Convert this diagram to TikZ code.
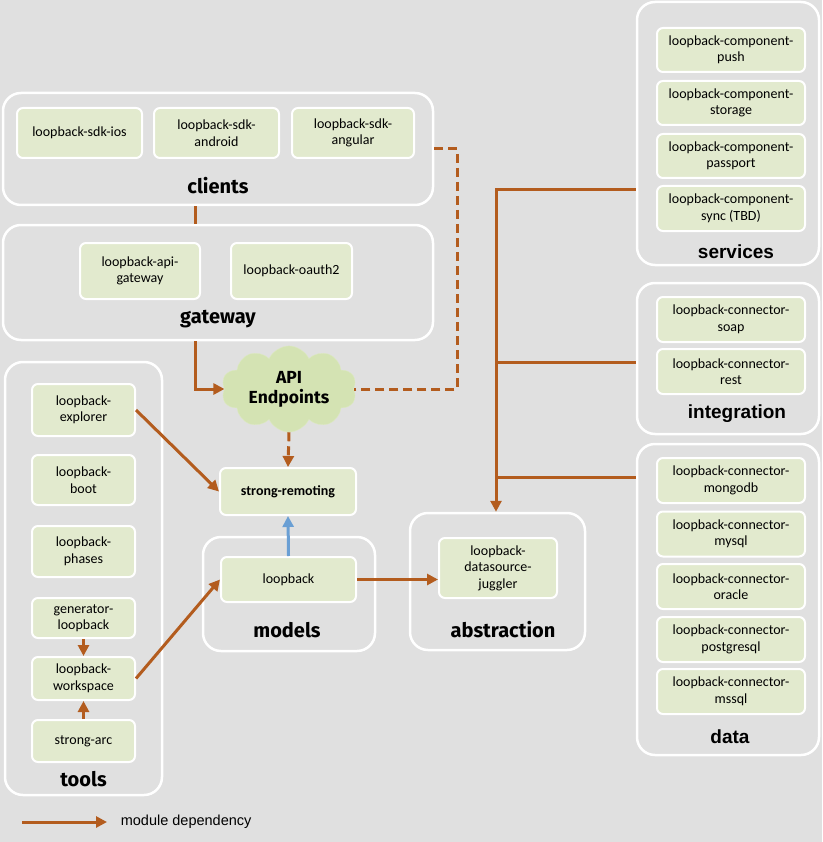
\documentclass[tikz,border=0pt]{standalone}
\usepackage{fontspec}
\setmainfont{Carlito}
\newfontfamily\grpfont{Fira Sans}
\newfontfamily\arialfont{Liberation Sans}
\usetikzlibrary{positioning, shapes.symbols, arrows.meta}
\definecolor{bggray}{HTML}{E0E0E0}
\definecolor{modgreen}{HTML}{E2EACE}
\definecolor{cloudgreen}{HTML}{D4E3B3}
\definecolor{deporange}{HTML}{B35C1E}
\definecolor{depblue}{HTML}{6A9FD4}
\tikzset{
	group/.style={
		rectangle,
		draw=white,
		line width=2.5pt,
		rounded corners=18pt,
		inner sep=0pt,
	},
	module/.style={
		rectangle,
		draw=white,
		line width=2pt,
		fill=modgreen,
		rounded corners=6pt,
		align=center,
		inner sep=0pt,
		font=\fontsize{14}{16.5}\selectfont,
	},
	grplabel/.style={
		font=\grpfont\bfseries\fontsize{20}{22}\selectfont,
		inner sep=0pt,
	},
	arlabel/.style={
		font=\arialfont\bfseries\fontsize{19}{22}\selectfont,
		inner sep=0pt,
	},
	dep/.style={
		draw=deporange,
		line width=3pt,
	},
}

\begin{document}
\begin{tikzpicture}[x=1pt, y=-1pt, >={Triangle[length=11pt,width=11pt]}]

		\fill [bggray] (0,0) rectangle (822,842);
		\useasboundingbox (0,0) rectangle (822,842);

		% clients and gateway
		\node [group, minimum width=430, minimum height=112] (clients) at (218,149) {};
		\node [module, minimum width=125, minimum height=50] (sdkios) at (79.5,133) {loopback-sdk-ios};
		\node [module, minimum width=125, minimum height=50] (sdkandroid) at (216.5,133) {loopback-sdk-\\android};
		\node [module, minimum width=122, minimum height=50] (sdkangular) at (353,133) {loopback-sdk-\\angular};
		\node [grplabel] (clientslbl) at (218,186) {clients};

		\node [group, minimum width=430, minimum height=115] (gateway) at (218,282.5) {};
		\node [module, minimum width=120, minimum height=56] (apigw) at (140,271) {loopback-api-\\gateway};
		\node [module, minimum width=121, minimum height=56] (oauth) at (291.5,271) {loopback-oauth2};
		\node [grplabel] (gatewaylbl) at (218,319) {gateway};

		\node [cloud, cloud puffs=10, cloud puff arc=130, aspect=1.7, draw=cloudgreen!80!white, fill=cloudgreen,
			minimum width=135, minimum height=80, inner sep=0pt, align=center,
			font=\grpfont\bfseries\fontsize{17.5}{20}\selectfont] (api) at (289,389) {API\\Endpoints};

		\node [module, minimum width=136, minimum height=47, font=\bfseries\fontsize{14}{16.5}\selectfont] (remoting) at (288,491.5) {strong-remoting};

		% tools
		\node [group, minimum width=157, minimum height=433] (tools) at (83.5,578.5) {};
		\node [module, minimum width=103, minimum height=52] (explorer) at (83.5,410) {loopback-\\explorer};
		\node [module, minimum width=103, minimum height=50] (boot) at (83.5,480) {loopback-\\boot};
		\node [module, minimum width=103, minimum height=51] (phases) at (83.5,551.5) {loopback-\\phases};
		\node [module, minimum width=103, minimum height=40] (generator) at (83.5,618) {generator-\\loopback};
		\node [module, minimum width=103, minimum height=43] (workspace) at (83.5,678.5) {loopback-\\workspace};
		\node [module, minimum width=103, minimum height=42] (strongarc) at (83.5,741) {strong-arc};
		\node [grplabel] (toolslbl) at (83.5,779) {tools};

		% models and abstraction
		\node [group, minimum width=172, minimum height=114] (models) at (289,594) {};
		\node [module, minimum width=135, minimum height=45] (loopback) at (288.5,579.5) {loopback};
		\node [grplabel] (modelslbl) at (287,630) {models};

		\node [group, minimum width=175, minimum height=137] (abstraction) at (497.5,581.5) {};
		\node [module, minimum width=118, minimum height=60] (juggler) at (498,568) {loopback-\\datasource-\\juggler};
		\node [grplabel] (abstractionlbl) at (503,630) {abstraction};

		% services
		\node [group, minimum width=182, minimum height=263] (services) at (728,133.5) {};
		\node [module, minimum width=148, minimum height=44] (push) at (731,50) {loopback-component-\\push};
		\node [module, minimum width=148, minimum height=44] (storage) at (731,103) {loopback-component-\\storage};
		\node [module, minimum width=148, minimum height=44] (passport) at (731,156) {loopback-component-\\passport};
		\node [module, minimum width=148, minimum height=45] (sync) at (731,208.5) {loopback-component-\\sync (TBD)};
		\node [arlabel] (serviceslbl) at (736,252) {services};

		% integration
		\node [group, minimum width=182, minimum height=151] (integration) at (728,358.5) {};
		\node [module, minimum width=148, minimum height=45] (soap) at (731,319.5) {loopback-connector-\\soap};
		\node [module, minimum width=148, minimum height=45] (rest) at (731,371.5) {loopback-connector-\\rest};
		\node [arlabel] (integrationlbl) at (737,414) {integration};

		% data
		\node [group, minimum width=182, minimum height=311] (data) at (728,599.5) {};
		\node [module, minimum width=148, minimum height=45] (mongodb) at (731,480.5) {loopback-connector-\\mongodb};
		\node [module, minimum width=148, minimum height=45] (mysql) at (731,534) {loopback-connector-\\mysql};
		\node [module, minimum width=148, minimum height=45] (oracle) at (731,586.5) {loopback-connector-\\oracle};
		\node [module, minimum width=148, minimum height=45] (postgresql) at (731,639.5) {loopback-connector-\\postgresql};
		\node [module, minimum width=148, minimum height=45] (mssql) at (731,691.5) {loopback-connector-\\mssql};
		\node [arlabel] (datalbl) at (730,737) {data};

		% connectors
		\draw [dep] ([xshift=-23pt]clients.south) to ([xshift=-23pt]gateway.north);
		\draw [dep, ->] ([xshift=-23pt]gateway.south) |- (api.west);
		\draw [dep, dashed, dash pattern=on 9pt off 5pt] (clients.east) -- ++(23,0) |- (api.east);
		\draw [dep, dashed, dash pattern=on 9pt off 5pt, ->] (api.south) to (remoting.north);
		\draw [dep, ->] (explorer.east) to (remoting.west);
		\draw [dep, ->] (workspace.east) to (loopback.west);
		\draw [dep, ->] (generator.south) to (workspace.north);
		\draw [dep, ->] (strongarc.north) to (workspace.south);
		\draw [depblue, line width=3pt, ->] (loopback.north) to (remoting.south);
		\draw [dep, ->] (loopback.east) to (loopback.east -| juggler.west);

		\coordinate (bus1) at (496,190);
		\coordinate (bus2) at (496,362);
		\coordinate (bus3) at (496,477);
		\draw [dep, ->] (bus1 -| services.west) -- (bus1) -- (bus1 |- abstraction.north);
		\draw [dep] (bus2) to (bus2 -| integration.west);
		\draw [dep] (bus3) to (bus3 -| data.west);

		% legend
		\coordinate (leg) at (22,822);
		\draw [dep, ->] (leg) -- ++(85,0) node [right=9pt, black, font=\arialfont\fontsize{14.5}{17}\selectfont] (leglbl) {module dependency};
	\end{tikzpicture}
\end{document}
